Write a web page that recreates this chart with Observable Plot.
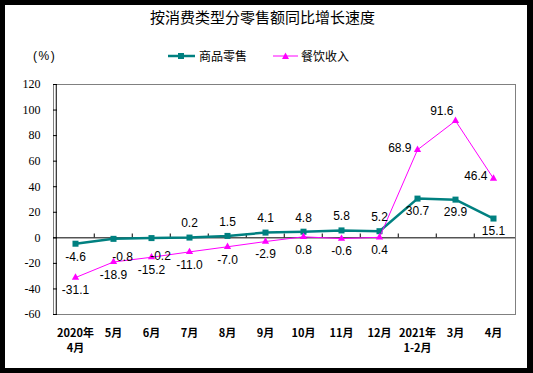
<!DOCTYPE html>
<html><head><meta charset="utf-8">
<script src="https://cdn.jsdelivr.net/npm/d3@7"></script>
<script src="https://cdn.jsdelivr.net/npm/@observablehq/plot@0.6"></script>
<style>
html,body{margin:0;padding:0;background:#000;width:533px;height:373px;overflow:hidden}
#panel{position:absolute;left:5px;top:5px;width:522px;height:363px;background:#fff}
#title{position:absolute;left:0;top:7px;width:525px;text-align:center;font:15px/20px "Noto Sans CJK SC",sans-serif;color:#000}
.lg{position:absolute;top:48px;font:12px/16px "Noto Sans CJK SC",sans-serif;color:#000;white-space:nowrap}
#unit{left:33px;letter-spacing:1.5px;font-family:"Liberation Sans",sans-serif}
#chart{position:absolute;left:0;top:0}
#sw{position:absolute;left:0;top:0}
</style></head>
<body>
<div id="panel"></div>
<div id="title">按消费类型分零售额同比增长速度</div>
<div class="lg" id="unit">(%)</div>
<div class="lg" style="left:199px">商品零售</div>
<div class="lg" style="left:301px">餐饮收入</div>
<svg id="sw" width="533" height="80">
  <line x1="168" x2="195" y1="56" y2="56" stroke="#008080" stroke-width="2.5"/>
  <rect x="178" y="53" width="6" height="6" fill="#008080"/>
  <line x1="273" x2="298" y1="56" y2="56" stroke="#ff00ff" stroke-width="1"/>
  <path d="M285.5,52.5 L289,59 L282,59 Z" fill="#ff00ff"/>
</svg>
<div id="chart"></div>
<script>
const cats = ["2020年\n4月","5月","6月","7月","8月","9月","10月","11月","12月","2021年\n1-2月","3月","4月"];
const goods = [-4.6,-0.8,-0.2,0.2,1.5,4.1,4.8,5.8,5.2,30.7,29.9,15.1];
const catering = [-31.1,-18.9,-15.2,-11.0,-7.0,-2.9,0.8,-0.6,0.4,68.9,91.6,46.4];
const yTicks = [-60,-40,-20,0,20,40,60,80,100,120];

const goodsPlace = ["b","br","br","a","a","a","a","a","a","b","b","b"];
const cateringPlace = ["b","b","b","b","b","b","b","b","b","l","al","l"];

const data = cats.map((c,i)=>({cat:c, goods:goods[i], catering:catering[i], gp:goodsPlace[i], cp:cateringPlace[i]}));

const W=533,H=373,ML=53,MR=18,MT=84,MB=59;
const step=(W-ML-MR)/cats.length;
const fmt=v=>v.toFixed(1);
const TEAL="#008080", MAG="#ff00ff";
const lab={fontSize:12, fontFamily:"Liberation Sans, Arial, sans-serif", fill:"#000"};

const placeOpts={
  b:{dy:13}, br:{dx:9,dy:18}, a:{dy:-14},
  l:{textAnchor:"end",dx:-6,dy:-2}, al:{textAnchor:"end",dx:-2,dy:-10}
};
const goodsTexts=Object.keys(placeOpts).map(k=>Plot.text(data.filter(d=>d.gp===k),{x:"cat",y:"goods",text:d=>fmt(d.goods),...lab,...placeOpts[k]}));
const cateringTexts=Object.keys(placeOpts).map(k=>Plot.text(data.filter(d=>d.cp===k),{x:"cat",y:"catering",text:d=>fmt(d.catering),...lab,...placeOpts[k]}));

const chart = Plot.plot({
  width:W, height:H, marginLeft:ML, marginRight:MR, marginTop:MT, marginBottom:MB,
  style:{background:"transparent", fontFamily:"Liberation Sans, sans-serif", overflow:"visible"},
  x:{type:"point", domain:cats, padding:0.5, label:null},
  y:{domain:[-60,120], label:null},
  marks:[
    Plot.frame({stroke:"#808080"}),
    Plot.ruleX([cats[0]],{dx:-step/2, stroke:"#000"}),
    Plot.ruleY([0],{stroke:"#000"}),
    Plot.ruleX(cats.slice(1),{dx:-step/2, y1:0, y2:3, stroke:"#000"}),
    Plot.tickY(yTicks,{y:d=>d, insetRight:W-ML-MR-4, stroke:"#000"}),
    Plot.axisY(yTicks,{tickSize:0, tickPadding:13, label:null, tickFormat:d=>String(d), fontSize:12, fontFamily:"Liberation Serif, serif", fill:"#000"}),
    Plot.axisX({tickSize:0, tickPadding:12, label:null, fontSize:11, fontWeight:"bold", lineHeight:1.36, fontFamily:"Noto Sans CJK SC, sans-serif", fill:"#000"}),
    Plot.line(data,{x:"cat", y:"goods", stroke:TEAL, strokeWidth:2.5}),
    Plot.dot(data,{x:"cat", y:"goods", symbol:"square", r:3.4, fill:TEAL}),
    Plot.line(data,{x:"cat", y:"catering", stroke:MAG, strokeWidth:1}),
    Plot.dot(data,{x:"cat", y:"catering", symbol:"triangle", r:2.7, fill:MAG}),
    ...goodsTexts, ...cateringTexts
  ]
});
document.getElementById("chart").appendChild(chart);
</script>
</body></html>
